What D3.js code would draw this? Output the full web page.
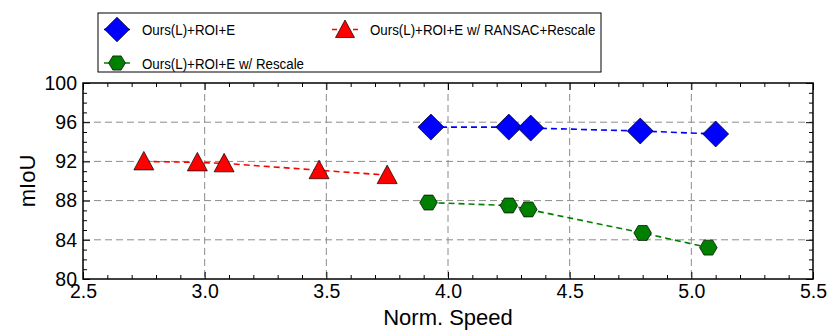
<!DOCTYPE html>
<meta charset="utf-8">
<head>
<title>mIoU vs Norm. Speed</title>
</head>
<style>
body { margin: 0; background: #fff; font-family: "Liberation Sans", Arial, sans-serif; }
.tick text { font-family: "Liberation Sans", Arial, sans-serif; }
</style>
<body>
<svg width="830" height="332"></svg>
<script src="https://cdnjs.cloudflare.com/ajax/libs/d3/7.8.5/d3.min.js"></script>
<script>
// data
var seriesNames = ["Ours(L)+ROI+E", "Ours(L)+ROI+E w/ Rescale", "Ours(L)+ROI+E w/ RANSAC+Rescale"];
var speedBase = [3.93, 4.25, 4.34, 4.79, 5.10];
var miouBase = [95.5, 95.5, 95.4, 95.1, 94.8];
var speedRescale = [3.92, 4.25, 4.33, 4.80, 5.07];
var miouRescale = [87.8, 87.5, 87.1, 84.7, 83.2];
var speedRansac = [2.75, 2.97, 3.08, 3.47, 3.75];
var miouRansac = [92.0, 91.9, 91.8, 91.1, 90.6];
var xTicks = [2.5, 3.0, 3.5, 4.0, 4.5, 5.0, 5.5];
var yTicks = [80, 84, 88, 92, 96, 100];

const pLeft = 83, pRight = 813, pTop = 83, pBottom = 279;

var svg = d3.select("svg");
var x = d3.scaleLinear().domain([2.5, 5.5]).range([pLeft, pRight]);
var y = d3.scaleLinear().domain([80, 100]).range([pBottom, pTop]);

// marker shapes
function diamond(r) { return "M0," + (-r) + "L" + r + ",0L0," + r + "L" + (-r) + ",0Z"; }
function triangle(r) {
	return "M0," + (-r) + "L" + (r * 1.0) + "," + (r * 0.85) + "L" + (-r * 1.0) + "," + (r * 0.85) + "Z";
}
function hexagon(r) {
	var pts = d3.range(6).map(function(i) {
		var a = i * Math.PI / 3;
		return [r * Math.cos(a), r * Math.sin(a) * 0.98];
	});
	return "M" + pts.join("L") + "Z";
}

var series = [
	{ name: seriesNames[0], xs: speedBase, ys: miouBase, color: "#0000ff", shape: diamond, size: 13 },
	{ name: seriesNames[1], xs: speedRescale, ys: miouRescale, color: "#008000", shape: hexagon, size: 8.8 },
	{ name: seriesNames[2], xs: speedRansac, ys: miouRansac, color: "#ff0000", shape: triangle, size: 10 }
];

// grid
var grid = svg.append("g").attr("stroke", "#8c8c8c").attr("stroke-width", 1).attr("stroke-dasharray", "7,4");
grid.selectAll(".gx").data(xTicks.slice(1, -1)).enter().append("line")
	.attr("x1", function(d) { return x(d); }).attr("x2", function(d) { return x(d); })
	.attr("y1", pTop).attr("y2", pBottom);
grid.selectAll(".gy").data(yTicks.slice(1, -1)).enter().append("line")
	.attr("y1", function(d) { return y(d); }).attr("y2", function(d) { return y(d); })
	.attr("x1", pLeft).attr("x2", pRight);

// ticks (inward, all four sides)
var xMinor = d3.range(26, 55).map(function(d) { return d / 10; }).filter(function(d) { return xTicks.indexOf(d) < 0; });
var yMinor = d3.range(81, 100).filter(function(d) { return yTicks.indexOf(d) < 0; });
var fmtX = d3.format(".1f");

svg.append("g").attr("transform", "translate(0," + pBottom + ")")
	.call(d3.axisBottom(x).tickValues(xTicks).tickFormat(fmtX).tickSizeInner(-7).tickSizeOuter(0).tickPadding(5))
	.call(function(g) { g.select(".domain").remove(); g.selectAll("text").attr("font-size", 19.5).attr("fill", "#000"); });
svg.append("g").attr("transform", "translate(0," + pBottom + ")")
	.call(d3.axisBottom(x).tickValues(xMinor).tickFormat("").tickSizeInner(-4).tickSizeOuter(0))
	.call(function(g) { g.select(".domain").remove(); });
svg.append("g").attr("transform", "translate(0," + pTop + ")")
	.call(d3.axisTop(x).tickValues(xTicks).tickFormat("").tickSizeInner(-7).tickSizeOuter(0))
	.call(function(g) { g.select(".domain").remove(); });
svg.append("g").attr("transform", "translate(0," + pTop + ")")
	.call(d3.axisTop(x).tickValues(xMinor).tickFormat("").tickSizeInner(-4).tickSizeOuter(0))
	.call(function(g) { g.select(".domain").remove(); });

svg.append("g").attr("transform", "translate(" + pLeft + ",0)")
	.call(d3.axisLeft(y).tickValues(yTicks).tickSizeInner(-7).tickSizeOuter(0).tickPadding(6))
	.call(function(g) { g.select(".domain").remove(); g.selectAll("text").attr("font-size", 19.5).attr("fill", "#000"); });
svg.append("g").attr("transform", "translate(" + pLeft + ",0)")
	.call(d3.axisLeft(y).tickValues(yMinor).tickFormat("").tickSizeInner(-4).tickSizeOuter(0))
	.call(function(g) { g.select(".domain").remove(); });
svg.append("g").attr("transform", "translate(" + pRight + ",0)")
	.call(d3.axisRight(y).tickValues(yTicks).tickFormat("").tickSizeInner(-7).tickSizeOuter(0))
	.call(function(g) { g.select(".domain").remove(); });
svg.append("g").attr("transform", "translate(" + pRight + ",0)")
	.call(d3.axisRight(y).tickValues(yMinor).tickFormat("").tickSizeInner(-4).tickSizeOuter(0))
	.call(function(g) { g.select(".domain").remove(); });

// frame
svg.append("rect").attr("x", pLeft).attr("y", pTop).attr("width", pRight - pLeft).attr("height", pBottom - pTop)
	.attr("fill", "none").attr("stroke", "#000").attr("stroke-width", 1.5);

// series
var line = d3.line();
series.forEach(function(s) {
	var pts = s.xs.map(function(v, i) { return [x(v), y(s.ys[i])]; });
	svg.append("path").attr("d", line(pts)).attr("fill", "none")
		.attr("stroke", s.color).attr("stroke-width", 1.6).attr("stroke-dasharray", "6,4");
	svg.append("g").selectAll("path").data(pts).enter().append("path")
		.attr("transform", function(d) { return "translate(" + d[0] + "," + d[1] + ")"; })
		.attr("d", s.shape(s.size))
		.attr("fill", s.color).attr("stroke", "#000").attr("stroke-width", 0.7);
});

// axis labels
svg.append("text").attr("x", (pLeft + pRight) / 2).attr("y", 325).attr("text-anchor", "middle")
	.attr("font-size", 22).text("Norm. Speed");
svg.append("text").attr("transform", "translate(35," + ((pTop + pBottom) / 2) + ") rotate(-90)")
	.attr("text-anchor", "middle").attr("font-size", 22).text("mIoU");

// legend
var legend = svg.append("g");
legend.append("rect").attr("x", 98).attr("y", 13).attr("width", 503).attr("height", 59)
	.attr("fill", "#fff").attr("stroke", "#000").attr("stroke-width", 1);
var legendPos = [[117, 29.5], [117, 63], [345, 29.5]];
var squeeze = 0.86;
series.forEach(function(s, i) {
	var p = legendPos[i];
	var g = legend.append("g").attr("transform", "translate(" + p[0] + "," + p[1] + ")");
	g.append("line").attr("x1", -13).attr("x2", 13).attr("stroke", s.color)
		.attr("stroke-width", 1.6).attr("stroke-dasharray", "5,16");
	g.append("path").attr("d", s.shape(s.size * 0.95)).attr("fill", s.color)
		.attr("stroke", "#000").attr("stroke-width", 0.7);
	g.append("text").attr("x", 25 / squeeze).attr("dy", "0.36em").attr("font-size", 15.5)
		.attr("transform", "scale(" + squeeze + ",1)").text(s.name);
});
</script>
</body>
</html>
